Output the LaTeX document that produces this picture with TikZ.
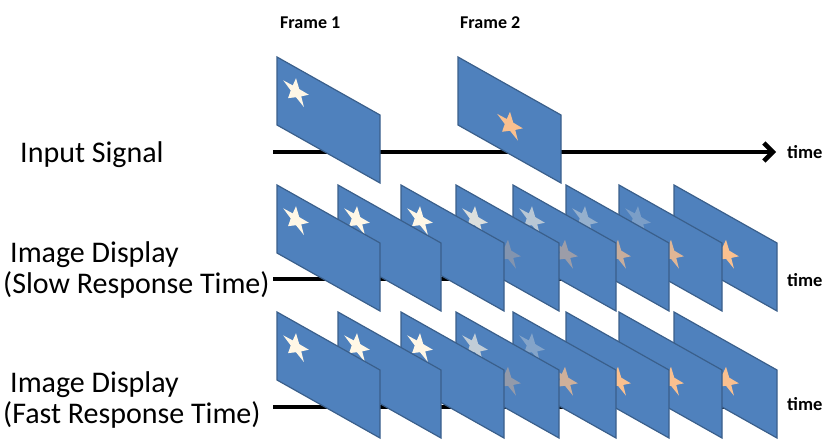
\documentclass[tikz,border=0pt]{standalone}
\usepackage{fontspec}
\setmainfont{Carlito}
\usetikzlibrary{arrows.meta}
\definecolor{framefill}{HTML}{4F81BD}
\definecolor{frameline}{HTML}{3A5F8B}
\definecolor{starcream}{HTML}{FFF7E6}
\definecolor{starorange}{HTML}{FAC08F}
\tikzset{
  framebox/.style={fill=framefill, draw=frameline, line width=1.2pt, line join=miter},
  timeline/.style={line width=4.5pt, black},
  rowlabel/.style={anchor=base west, inner sep=0pt, font=\fontsize{30}{34}\selectfont},
  timelabel/.style={anchor=base west, inner sep=0pt, font=\bfseries\fontsize{18.5}{20}\selectfont},
  framelabel/.style={anchor=base west, inner sep=0pt, font=\bfseries\fontsize{18}{20}\selectfont},
}
\newcommand\mystar[3]{%
  \begin{scope}[shift={(#1,#2)}]
    \fill[#3] (270:13.5) -- (306:5.5) -- (342:13.5) -- (18:5.5) -- (54:13.5) -- (90:5.5)
      -- (126:13.5) -- (162:5.5) -- (198:13.5) -- (234:5.5) -- cycle;
  \end{scope}}
\newcommand\vframe[4]{%
  \begin{scope}[shift={(#1,#2)}]
    \filldraw[framebox] (0,0) -- (103,58) -- (103,126) -- (0,68) -- cycle;
    \begin{scope}[cm={1,-0.563,0,1,(0,0)}]
      \ifdim #3pt>0pt \mystar{19}{24}{starcream, fill opacity=#3}\fi
      \ifdim #4pt>0pt \mystar{52}{39}{starorange, fill opacity=#4}\fi
    \end{scope}
  \end{scope}}
\begin{document}
\begin{tikzpicture}[x=1pt,y=-1pt]
\useasboundingbox (0,0) rectangle (826,439);
% labels
\node[framelabel] (f1) at (280,28) {Frame 1};
\node[framelabel] (f2) at (460,28) {Frame 2};
\node[rowlabel] (inlab) at (20,162) {Input Signal};
\node[rowlabel] (slow1) at (10,262) {Image Display};
\node[rowlabel] (slow2) at (3,293) {(Slow Response Time)};
\node[rowlabel] (fast1) at (10,392) {Image Display};
\node[rowlabel] (fast2) at (3,423) {(Fast Response Time)};
\node[timelabel] (t1) at (787,158) {time};
\node[timelabel] (t2) at (787,286) {time};
\node[timelabel] (t3) at (787,410) {time};
% time lines
\coordinate (inS) at (273,152);
\coordinate (inE) at (776,152);
\coordinate (slS) at (273,279);
\coordinate (slE) at (765,279);
\coordinate (faS) at (273,407);
\coordinate (faE) at (765,407);
\draw[timeline, -{Straight Barb[length=9pt,width=18pt]}] (inS) -- (inE);
\draw[timeline] (slS) -- (slE);
\draw[timeline] (faS) -- (faE);
% input frames
\vframe{277}{57}{1}{0}
\vframe{458}{57}{0}{1}
% slow response row (back to front)
\vframe{674}{185}{0}{1}
\vframe{619}{185}{0.25}{0.85}
\vframe{566}{185}{0.4}{0.7}
\vframe{513}{185}{0.6}{0.45}
\vframe{456}{185}{0.8}{0.3}
\vframe{401}{185}{1}{0}
\vframe{338}{185}{1}{0}
\vframe{277}{185}{1}{0}
% fast response row (back to front)
\vframe{674}{312}{0}{1}
\vframe{619}{312}{0}{1}
\vframe{566}{312}{0}{1}
\vframe{513}{312}{0.3}{0.75}
\vframe{456}{312}{0.65}{0.4}
\vframe{401}{312}{1}{0}
\vframe{338}{312}{1}{0}
\vframe{277}{312}{1}{0}
\end{tikzpicture}
\end{document}
